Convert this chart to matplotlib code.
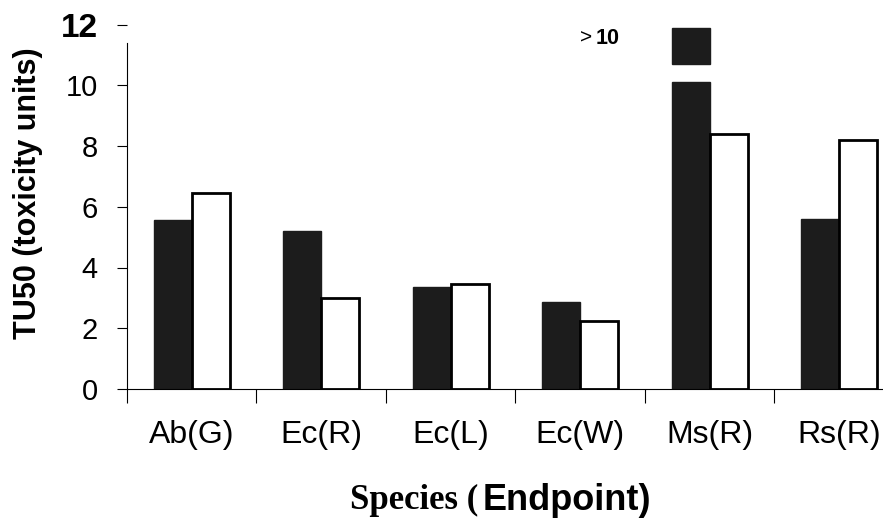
import matplotlib
matplotlib.use("Agg")
import numpy as np
import matplotlib.pyplot as plt

# Species / endpoint categories
species = ["Ab(G)", "Ec(R)", "Ec(L)", "Ec(W)", "Ms(R)", "Rs(R)"]

# TU50 values (dark = first series, white = second series)
dark_vals = [5.55, 5.2, 3.35, 2.85, 10.1, 5.6]
white_vals = [6.45, 3.0, 3.45, 2.25, 8.4, 8.2]

# broken-bar marker above Ms(R) (value > 10)
ms_box_bottom = 10.7
ms_box_top = 11.9

yticks = [0, 2, 4, 6, 8, 10, 12]

plt.rcParams['font.family'] = ['Liberation Sans', 'DejaVu Sans']

fig = plt.figure(figsize=(8.83, 5.21), dpi=100)
ax = fig.add_axes([127 / 883, 132 / 521, 777 / 883, 364.5 / 521])

x = np.arange(len(species)) + 0.5
w = 0.295
dark = "#1c1c1c"

ax.bar(x - w / 2, dark_vals, width=w, color=dark, edgecolor=dark, linewidth=1)
ax.bar(x + w / 2, white_vals, width=w, color="white", edgecolor="black", linewidth=2)
ax.bar(x[4] - w / 2, ms_box_top - ms_box_bottom, bottom=ms_box_bottom, width=w,
       color=dark, edgecolor=dark, linewidth=1)

ax.text(3.5, 11.55, ">", fontsize=15, ha="left", va="center")
ax.text(3.615, 11.55, "10", fontsize=15.5, fontweight="bold", ha="left", va="center")

ax.set_xlim(0, 6)
ax.set_ylim(0, 12)

ax.spines["top"].set_visible(False)
ax.spines["right"].set_visible(False)
ax.spines["left"].set_bounds(0, 11.4)
ax.spines["left"].set_linewidth(0.8)
ax.spines["bottom"].set_linewidth(0.8)

# x axis: ticks between groups, labels at group centres
ax.set_xticks(np.arange(0, 7))
ax.set_xticklabels([])
ax.set_xticks(x, minor=True)
ax.set_xticklabels(species, minor=True, fontsize=23)
ax.tick_params(axis="x", which="major", direction="out", length=10, width=0.8)
ax.tick_params(axis="x", which="minor", length=0, pad=22)

ax.set_yticks(yticks)
ax.set_yticklabels([str(v) for v in yticks], fontsize=21)
ax.tick_params(axis="y", direction="out", length=7, width=0.8, pad=14)
lbl12 = ax.get_yticklabels()[-1]
lbl12.set_fontweight("bold")
lbl12.set_fontsize(24)

fig.text(28 / 883, 1 - 193 / 521, "TU50 (toxicity units)", rotation=90,
         fontsize=22, fontweight="bold", ha="center", va="center")
fig.text(478 / 883, 1 - 500 / 521, "Species (", fontsize=25, fontweight="bold",
         family="Liberation Serif", ha="right", va="center")
fig.text(483 / 883, 1 - 500 / 521, "Endpoint)", fontsize=26, fontweight="bold",
         ha="left", va="center")

fig.savefig("out.png", dpi=100)
